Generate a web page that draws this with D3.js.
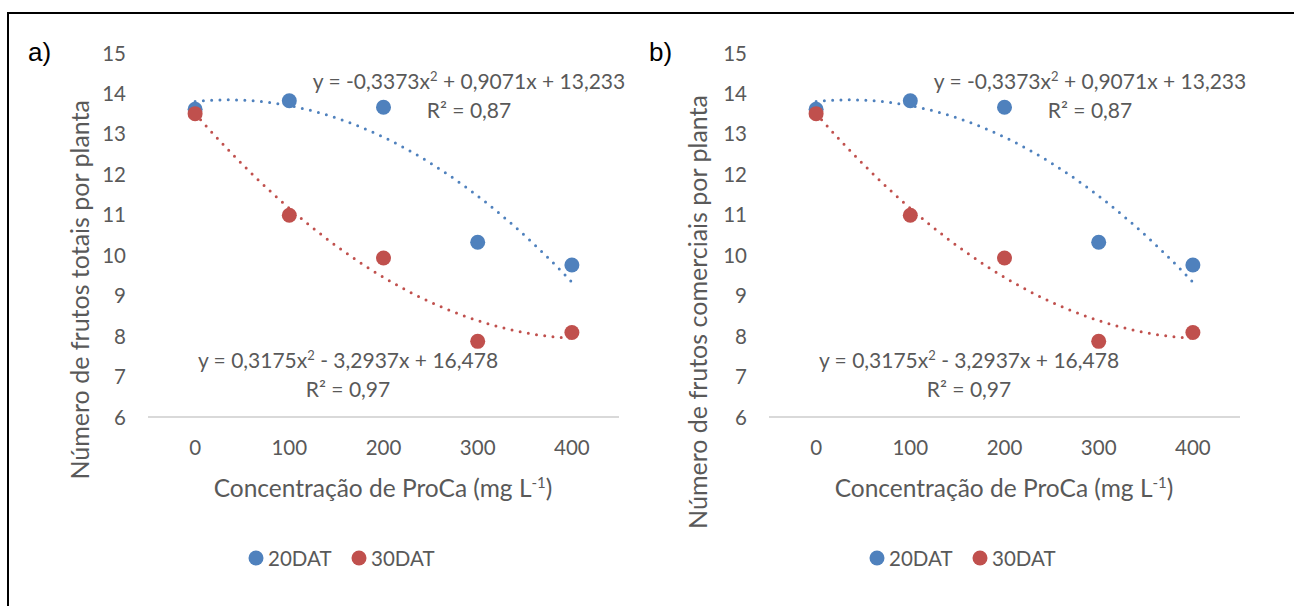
<!DOCTYPE html>
<html>
<head>
<meta charset="utf-8">
<script src="https://cdn.jsdelivr.net/npm/d3@7"></script>
<style>
  body { margin: 0; background: #fff; }
  text { font-family: Lato, "Open Sans", sans-serif; fill: #595959; }
</style>
</head>
<body>
<svg id="chart"></svg>
<script>
// data
const doses = ["0", "100", "200", "300", "400"];
const dat20 = [13.61, 13.82, 13.66, 10.32, 9.76];
const dat30 = [13.50, 10.99, 9.93, 7.87, 8.09];
const yTicks = [6, 7, 8, 9, 10, 11, 12, 13, 14, 15];
const seriesNames = ["20DAT", "30DAT"];
// trendline coefficients shown on the chart (a, b, c for a*x^2 + b*x + c)
const fit20 = [-0.3373, 0.9071, 13.233];
const fit30 = [0.3175, -3.2937, 16.478];
const eq20 = ["y = -0,3373x", "2", " + 0,9071x + 13,233"];
const eq30 = ["y = 0,3175x", "2", " - 3,2937x + 16,478"];
const r20 = "R² = 0,87";
const r30 = "R² = 0,97";

const width = 1294, height = 606;
const blue = "#4f81bd", red = "#c0504d";

const svg = d3.select("#chart")
    .attr("width", width)
    .attr("height", height);

// outer frame (top and left edges only)
svg.append("path")
    .attr("d", `M8,${height} L8,13 L${width},13`)
    .attr("fill", "none")
    .attr("stroke", "#000")
    .attr("stroke-width", 2);

function drawPanel(dx, label, yTitle, yTitlePos) {
    const g = svg.append("g").attr("transform", `translate(${dx},0)`);

    const x = d3.scalePoint().domain(doses).range([148, 619]).padding(0.5);
    // same range for the trendline, indexed 1..5 like the spreadsheet does
    const xi = d3.scaleLinear().domain([0.5, doses.length + 0.5]).range([148, 619]);
    const y = d3.scaleLinear().domain([6, 15]).range([417, 53]);

    g.append("text")
        .attr("x", 28).attr("y", 61)
        .style("font-family", "'Liberation Sans', Arial, sans-serif")
        .style("font-size", "26px")
        .style("fill", "#000")
        .text(label);

    // baseline gridline
    g.append("line")
        .attr("x1", 148).attr("x2", 619)
        .attr("y1", y(6)).attr("y2", y(6))
        .attr("stroke", "#d9d9d9")
        .attr("stroke-width", 2);

    // y tick labels
    g.selectAll(".ytick")
        .data(yTicks)
        .join("text")
        .attr("x", 126)
        .attr("y", d => y(d) + 7.5)
        .attr("text-anchor", "end")
        .style("font-size", "20.5px")
        .text(d => d);

    // x tick labels
    g.selectAll(".xtick")
        .data(doses)
        .join("text")
        .attr("x", d => x(d))
        .attr("y", 455)
        .attr("text-anchor", "middle")
        .style("font-size", "20.5px")
        .text(d => d);

    // x axis title
    const xt = g.append("text")
        .attr("x", 383).attr("y", 497)
        .attr("text-anchor", "middle")
        .style("font-size", "24.5px");
    xt.append("tspan").text("Concentração de ProCa (mg L");
    xt.append("tspan").attr("dy", -9).style("font-size", "15px").text("-1");
    xt.append("tspan").attr("dy", 9).text(")");

    // y axis title
    g.append("text")
        .attr("transform", `translate(${yTitlePos[0]},${yTitlePos[1]}) rotate(-90)`)
        .attr("text-anchor", "end")
        .style("font-size", "25px")
        .text(yTitle);

    // trendlines
    const line = d3.line()
        .x(d => xi(d[0]))
        .y(d => y(d[1]));
    [[fit20, blue], [fit30, red]].forEach(([f, c]) => {
        const pts = d3.range(1, doses.length + 0.001, 0.05)
            .map(t => [t, f[0] * t * t + f[1] * t + f[2]]);
        g.append("path")
            .attr("d", line(pts))
            .attr("fill", "none")
            .attr("stroke", c)
            .attr("stroke-width", 3)
            .attr("stroke-linecap", "round")
            .attr("stroke-dasharray", "0 8.3");
    });

    // markers
    [[dat20, blue], [dat30, red]].forEach(([vals, c]) => {
        g.selectAll(null)
            .data(vals)
            .join("circle")
            .attr("cx", (d, i) => x(doses[i]))
            .attr("cy", d => y(d))
            .attr("r", 7.5)
            .attr("fill", c);
    });

    // equations
    function equation(parts, r2, cx, yb) {
        const t = g.append("text")
            .attr("x", cx).attr("y", yb)
            .attr("text-anchor", "middle")
            .style("font-size", "21px");
        t.append("tspan").text(parts[0]);
        t.append("tspan").attr("dy", -8).style("font-size", "13px").text(parts[1]);
        t.append("tspan").attr("dy", 8).text(parts[2]);
        g.append("text")
            .attr("x", cx).attr("y", yb + 29)
            .attr("text-anchor", "middle")
            .style("font-size", "21px")
            .text(r2);
    }
    equation(eq20, r20, 469, 89);
    equation(eq30, r30, 348, 368);

    // legend
    const leg = g.append("g").attr("transform", "translate(0,558)");
    seriesNames.forEach((name, i) => {
        const lx = 256 + i * 103;
        leg.append("circle")
            .attr("cx", lx).attr("cy", 0).attr("r", 7.5)
            .attr("fill", i === 0 ? blue : red);
        leg.append("text")
            .attr("x", lx + 12).attr("y", 8)
            .style("font-size", "20.5px")
            .text(name);
    });
}

drawPanel(0, "a)", "Número de frutos totais por planta", [89, 100]);
drawPanel(621, "b)", "Número de frutos comerciais por planta", [86, 95]);
</script>
</body>
</html>
